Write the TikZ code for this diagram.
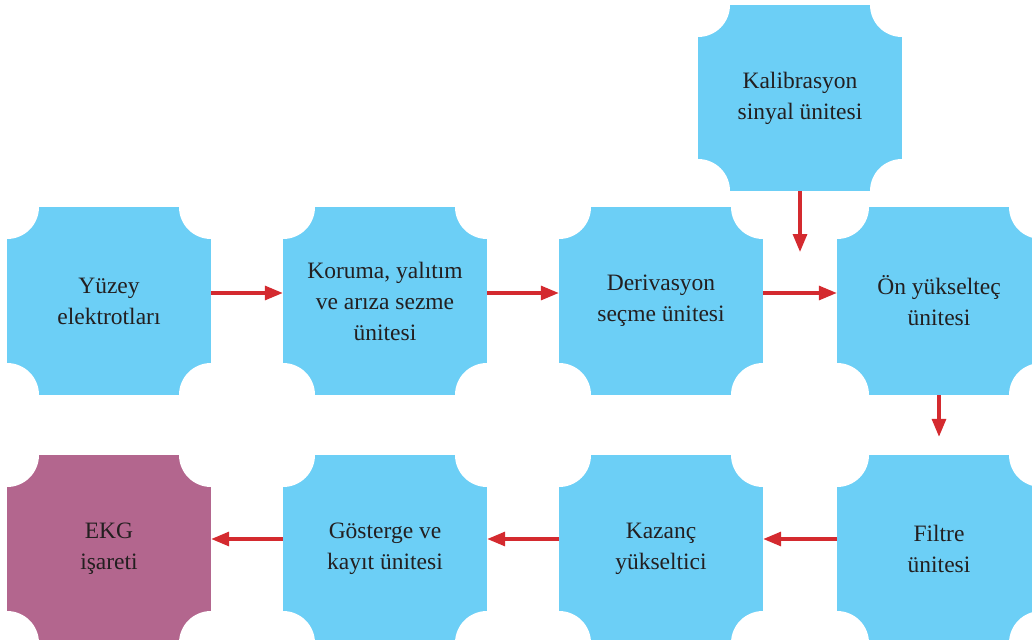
\documentclass[tikz,border=0pt]{standalone}
\usepackage{fontspec}
\setmainfont{Liberation Serif}
\usetikzlibrary{arrows.meta}
\definecolor{unitblue}{HTML}{6CCFF6}
\definecolor{unitpurple}{HTML}{B3668E}
\definecolor{flowred}{HTML}{D42A2F}
\definecolor{labelgray}{HTML}{231F20}

\begin{document}
\begin{tikzpicture}[x=1pt,y=-1pt,
    unit/.style={fill=unitblue, minimum width=204pt, minimum height=188pt, inner sep=0pt,
      align=center, text=labelgray, font=\fontsize{23.5}{31}\selectfont,
      path picture={
        \foreach \c in {north west,north east,south west,south east}
          \fill[white] (path picture bounding box.\c) circle (\corner);
      }},
    flow/.style={draw=flowred, line width=3.2pt, -{Triangle[length=18pt,width=14pt]}}]
    \def \corner {32pt} % radius of the cut-out corners
    \def \up {8pt} % arrows sit a bit above the middle
    \useasboundingbox (0,0) rectangle (1032,639);
    \clip (0,0) rectangle (1032,639);
    % top row
    \node[unit] (yuzey) at (109,301) {Yüzey\\elektrotları};
    \node[unit] (koruma) at (385,301) {Koruma, yalıtım\\ve arıza sezme\\ünitesi};
    \node[unit] (derivasyon) at (661,301) {Derivasyon\\seçme ünitesi};
    \node[unit] (onyuk) at (939,301) {Ön yükselteç\\ünitesi};
    \node[unit, minimum height=186pt] (kalibrasyon) at (800,98) {Kalibrasyon\\sinyal ünitesi};
    % bottom row
    \node[unit] (filtre) at (939,549) {Filtre\\ünitesi};
    \node[unit] (kazanc) at (661,549) {Kazanç\\yükseltici};
    \node[unit] (gosterge) at (385,549) {Gösterge ve\\kayıt ünitesi};
    \node[unit, fill=unitpurple] (ekg) at (109,549) {EKG\\işareti};
    \coordinate (kalend) at (800,252);

    \draw[flow] ([yshift=\up]yuzey.east) -- ([yshift=\up]koruma.west);
    \draw[flow] ([yshift=\up]koruma.east) -- ([yshift=\up]derivasyon.west);
    \draw[flow] ([yshift=\up]derivasyon.east) -- ([yshift=\up]onyuk.west);
    \draw[flow] (kalibrasyon) -- (kalend);
    \draw[flow, shorten >=18pt] (onyuk) -- (filtre);
    \draw[flow] ([yshift=10pt]filtre.west) -- ([yshift=10pt]kazanc.east);
    \draw[flow] ([yshift=10pt]kazanc.west) -- ([yshift=10pt]gosterge.east);
    \draw[flow] ([yshift=10pt]gosterge.west) -- ([yshift=10pt]ekg.east);
\end{tikzpicture}
\end{document}
